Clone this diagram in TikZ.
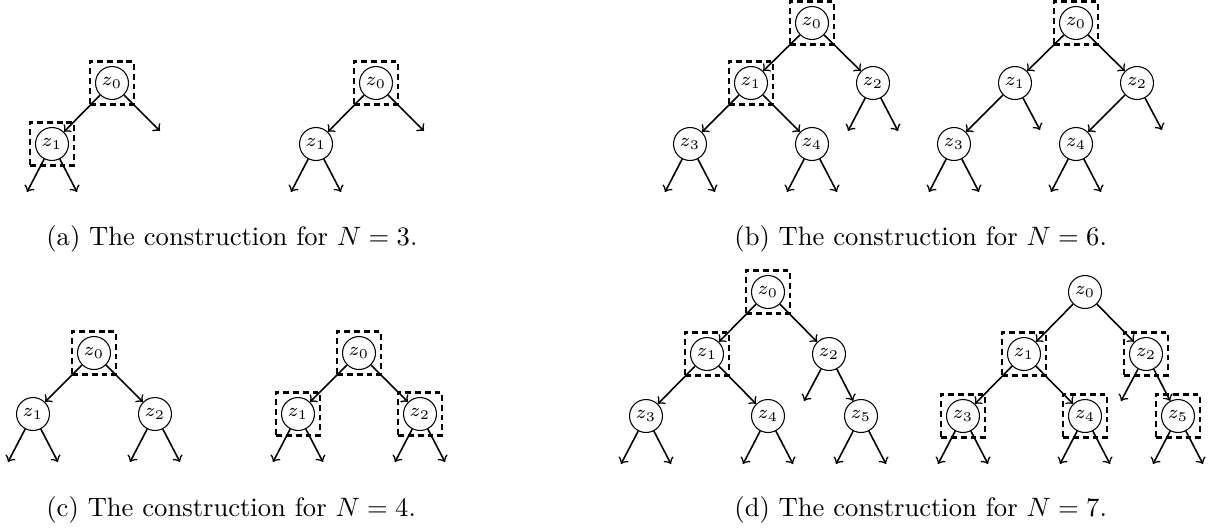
\documentclass[tikz,border=0pt]{standalone}
\usepackage{amsmath}
\usepackage{tikz}
\usetikzlibrary{calc}

\begin{document}
\begin{tikzpicture}[x=0.376pt,y=-0.376pt,
  vtx/.style={draw,circle,thin,inner sep=0pt,minimum size=12.4pt,font=\scriptsize},
  pick/.style={draw,line width=1pt,dash pattern=on 2.2pt off 1.5pt,minimum width=16.5pt,minimum height=16.2pt,inner sep=0pt},
  edge/.style={->,semithick}]
\useasboundingbox (0,0) rectangle (1211,527);

% (a) N=3
\node[pick] (pal0) at (112,83) {};
\node[pick] (pal1) at (52,144) {};
\node[pick] (par0) at (376,83) {};
\node[vtx] (al0) at (112,83) {$z_0$};
\node[vtx] (al1) at (52,144) {$z_1$};
\node[vtx] (ar0) at (376,83) {$z_0$};
\node[vtx] (ar1) at (316,144) {$z_1$};
\coordinate (al0e) at (160,131);
\coordinate (ar0e) at (424,131);
\draw[edge] (al0) -- (al1);
\draw[edge] (al0) -- (al0e);
\draw[edge] (ar0) -- (ar1);
\draw[edge] (ar0) -- (ar0e);
\node[anchor=base west] (capa) at (37,245) {(a) The construction for $N=3$.};

% (b) N=6
\node[pick] (pbl0) at (812,23) {};
\node[pick] (pbl1) at (751,83) {};
\node[pick] (pbr0) at (1076,23) {};
\node[vtx] (bl0) at (812,23) {$z_0$};
\node[vtx] (bl1) at (751,83) {$z_1$};
\node[vtx] (bl2) at (873,83) {$z_2$};
\node[vtx] (bl3) at (690,144) {$z_3$};
\node[vtx] (bl4) at (812,144) {$z_4$};
\node[vtx] (br0) at (1076,23) {$z_0$};
\node[vtx] (br1) at (1015,83) {$z_1$};
\node[vtx] (br2) at (1137,83) {$z_2$};
\node[vtx] (br3) at (954,144) {$z_3$};
\node[vtx] (br4) at (1076,144) {$z_4$};
\coordinate (br1e) at ($(br1)+(25,47)$);
\coordinate (br2e) at ($(br2)+(25,47)$);
\draw[edge] (bl0) -- (bl1);
\draw[edge] (bl0) -- (bl2);
\draw[edge] (bl1) -- (bl3);
\draw[edge] (bl1) -- (bl4);
\draw[edge] (br0) -- (br1);
\draw[edge] (br0) -- (br2);
\draw[edge] (br1) -- (br3);
\draw[edge] (br1) -- (br1e);
\draw[edge] (br2) -- (br4);
\draw[edge] (br2) -- (br2e);
\node[anchor=base west] (capb) at (725,245) {(b) The construction for $N=6$.};

% (c) N=4
\node[pick] (pcl0) at (94,353) {};
\node[pick] (pcr0) at (359,353) {};
\node[pick] (pcr1) at (298,414) {};
\node[pick] (pcr2) at (420,414) {};
\node[vtx] (cl0) at (94,353) {$z_0$};
\node[vtx] (cl1) at (33,414) {$z_1$};
\node[vtx] (cl2) at (155,414) {$z_2$};
\node[vtx] (cr0) at (359,353) {$z_0$};
\node[vtx] (cr1) at (298,414) {$z_1$};
\node[vtx] (cr2) at (420,414) {$z_2$};
\draw[edge] (cl0) -- (cl1);
\draw[edge] (cl0) -- (cl2);
\draw[edge] (cr0) -- (cr1);
\draw[edge] (cr0) -- (cr2);
\node[anchor=base west] (capc) at (37,516) {(c) The construction for $N=4$.};

% (d) N=7
\node[pick] (pdl0) at (768,292) {};
\node[pick] (pdl1) at (707,354) {};
\node[pick] (pdr1) at (1024,354) {};
\node[pick] (pdr2) at (1146,354) {};
\node[pick] (pdr3) at (963,416) {};
\node[pick] (pdr4) at (1085,416) {};
\node[pick] (pdr5) at (1178,416) {};
\node[vtx] (dl0) at (768,292) {$z_0$};
\node[vtx] (dl1) at (707,354) {$z_1$};
\node[vtx] (dl2) at (829,354) {$z_2$};
\node[vtx] (dl3) at (646,416) {$z_3$};
\node[vtx] (dl4) at (768,416) {$z_4$};
\node[vtx] (dl5) at (861,416) {$z_5$};
\node[vtx] (dr0) at (1085,292) {$z_0$};
\node[vtx] (dr1) at (1024,354) {$z_1$};
\node[vtx] (dr2) at (1146,354) {$z_2$};
\node[vtx] (dr3) at (963,416) {$z_3$};
\node[vtx] (dr4) at (1085,416) {$z_4$};
\node[vtx] (dr5) at (1178,416) {$z_5$};
\coordinate (dl2w) at ($(dl2)+(-25,47)$);
\coordinate (dr2w) at ($(dr2)+(-25,47)$);
\draw[edge] (dl0) -- (dl1);
\draw[edge] (dl0) -- (dl2);
\draw[edge] (dl1) -- (dl3);
\draw[edge] (dl1) -- (dl4);
\draw[edge] (dl2) -- (dl2w);
\draw[edge] (dl2) -- (dl5);
\draw[edge] (dr0) -- (dr1);
\draw[edge] (dr0) -- (dr2);
\draw[edge] (dr1) -- (dr3);
\draw[edge] (dr1) -- (dr4);
\draw[edge] (dr2) -- (dr2w);
\draw[edge] (dr2) -- (dr5);
\node[anchor=base west] (capd) at (725,516) {(d) The construction for $N=7$.};

% open leaves
\foreach \v in {al1,ar1,bl2,bl3,bl4,br3,br4,cl1,cl2,cr1,cr2,dl3,dl4,dl5,dr3,dr4,dr5}{
  \coordinate (\v w) at ($(\v)+(-25,48)$);
  \coordinate (\v e) at ($(\v)+(25,48)$);
  \draw[edge] (\v) -- (\v w);
  \draw[edge] (\v) -- (\v e);
}
\end{tikzpicture}
\end{document}
